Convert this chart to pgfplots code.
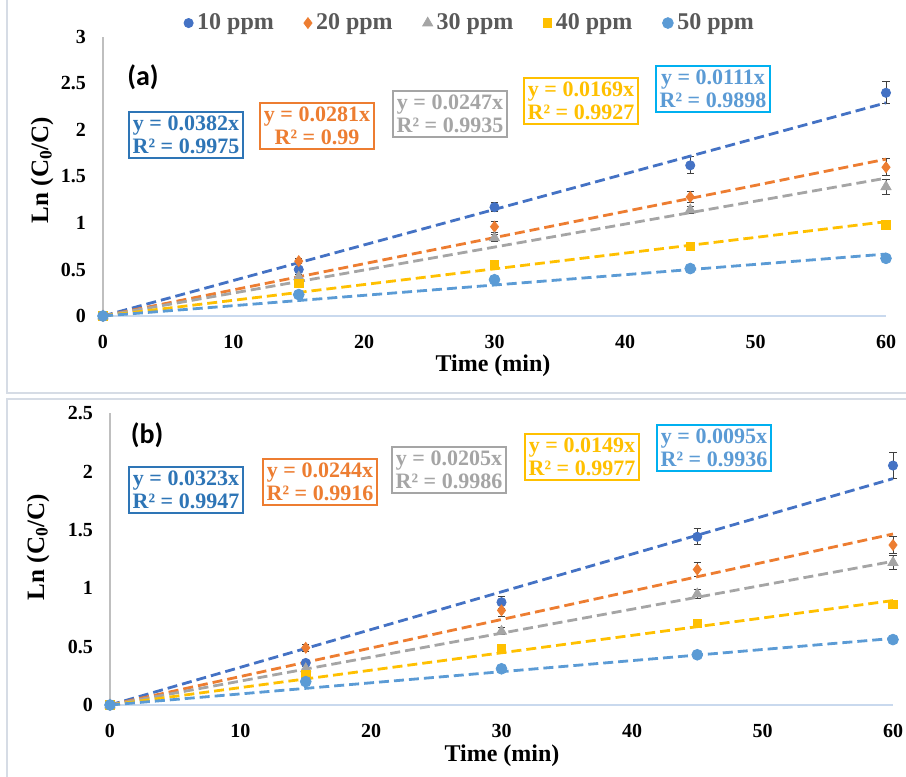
\documentclass[border=0pt]{standalone}
\usepackage{pgfplots}
\pgfplotsset{compat=1.18}
\usepackage{fontspec}
\setmainfont{Liberation Serif}
\newfontfamily\carlito{Carlito}
\definecolor{cA}{HTML}{4472C4}
\definecolor{cB}{HTML}{ED7D31}
\definecolor{cC}{HTML}{A5A5A5}
\definecolor{cD}{HTML}{FFC000}
\definecolor{cE}{HTML}{5B9BD5}
\definecolor{boxA}{HTML}{2E75B6}
\definecolor{boxE}{HTML}{00B0F0}
\definecolor{framec}{HTML}{D6DCE5}
\definecolor{xline}{HTML}{C9D9EE}
\definecolor{yline}{HTML}{BFBFBF}
\definecolor{legtext}{HTML}{595959}
\definecolor{errc}{HTML}{404040}
\pgfplotsset{
 kin/.style={scale only axis, width=391.5pt, xmin=0, xmax=60, ymin=0,
  axis lines=left, axis line style={-},
  x axis line style={draw=xline, line width=0.8pt},
  y axis line style={draw=yline, line width=0.6pt},
  major tick length=0pt, xtick={0,10,...,60},
  tick label style={font=\bfseries\fontsize{10}{10}\selectfont},
  /pgf/number format/assume math mode=true,
  xticklabel style={yshift=-6pt}, yticklabel style={xshift=-5pt},
  clip=false,
  error bars/y dir=both, error bars/y explicit,
  error bars/error mark=-,
  error bars/error bar style={errc, line width=0.5pt},
  error bars/error mark options={errc, rotate=90, mark size=1.8pt, line width=0.5pt}},
 sA/.style={only marks, mark=*, mark size=2.3pt, color=cA},
 sB/.style={only marks, mark=diamond*, mark size=2.7pt, color=cB},
 sC/.style={only marks, mark=triangle*, mark size=2.9pt, color=cC},
 sD/.style={only marks, mark=square*, mark size=2.1pt, color=cD},
 sE/.style={only marks, mark=*, mark size=2.7pt, color=cE},
 tl/.style={forget plot, no marks, line width=1.4pt, dash pattern=on 5pt off 2.5pt},
}
\begin{document}
\begin{tikzpicture}
\useasboundingbox (0,0) rectangle (453pt,388.5pt);
% frames and text annotations (px coordinates)
\begin{scope}[x=0.5pt,y=-0.5pt,shift={(0pt,388.5pt)}]
\draw[framec, line width=0.8pt] (7,-10) rectangle (915,393);
\draw[framec, line width=0.8pt] (7,399) rectangle (915,790);
\node[font=\carlito\bfseries\fontsize{14}{14}\selectfont] at (143,77) {(a)};
\node[font=\carlito\bfseries\fontsize{14}{14}\selectfont] at (147,435) {(b)};
\node[font=\bfseries\fontsize{12}{12}\selectfont] at (493,366) {Time (min)};
\node[font=\bfseries\fontsize{12}{12}\selectfont] at (502,756) {Time (min)};
\node[font=\bfseries\fontsize{12.5}{12.5}\selectfont, rotate=90] at (42,170) {Ln (C\textsubscript{0}/C)};
\node[font=\bfseries\fontsize{12.5}{12.5}\selectfont, rotate=90] at (38,547) {Ln (C\textsubscript{0}/C)};
\tikzset{eq/.style={draw=#1, text=#1, line width=0.8pt, inner sep=2pt, align=center, font=\bfseries\fontsize{11}{11.5}\selectfont, fill=white}}
\node[eq=boxA] at (186,135) {y = 0.0382x\\R² = 0.9975};
\node[eq=cB] at (317,126) {y = 0.0281x\\R² = 0.99};
\node[eq=cC] at (450,114) {y = 0.0247x\\R² = 0.9935};
\node[eq=cD] at (581,101) {y = 0.0169x\\R² = 0.9927};
\node[eq=boxE, text=cE] at (713,89) {y = 0.0111x\\R² = 0.9898};
\node[eq=boxA] at (186,490) {y = 0.0323x\\R² = 0.9947};
\node[eq=cB] at (320,482) {y = 0.0244x\\R² = 0.9916};
\node[eq=cC] at (449,470) {y = 0.0205x\\R² = 0.9986};
\node[eq=cD] at (582,457) {y = 0.0149x\\R² = 0.9977};
\node[eq=boxE, text=cE] at (714,448) {y = 0.0095x\\R² = 0.9936};
\end{scope}
% panel (a)
\begin{axis}[kin, at={(51.5pt,230.5pt)}, anchor=south west, height=139.5pt,
  ymax=3, ytick={0,0.5,...,3},
  legend columns=5,
  legend style={at={(0.47,1.05)}, anchor=center, draw=none, fill=none,
    font=\bfseries\fontsize{12}{12}\selectfont, text=legtext,
    /tikz/every even column/.append style={column sep=13pt}},
  legend image code/.code={\draw[mark repeat=2,mark phase=2,#1] plot coordinates {(0cm,0cm) (0.12cm,0cm) (0.24cm,0cm)};}]
\addplot[sA] coordinates {(0,0) +- (0,0) (15,0.50) +- (0,0.03) (30,1.17) +- (0,0.05) (45,1.62) +- (0,0.09) (60,2.40) +- (0,0.12)};
\addlegendentry{10 ppm}
\addplot[sB] coordinates {(0,0) +- (0,0) (15,0.59) +- (0,0.03) (30,0.96) +- (0,0.06) (45,1.28) +- (0,0.06) (60,1.60) +- (0,0.09)};
\addlegendentry{20 ppm}
\addplot[sC] coordinates {(0,0) +- (0,0) (15,0.42) +- (0,0.03) (30,0.84) +- (0,0.04) (45,1.14) +- (0,0.04) (60,1.39) +- (0,0.08)};
\addlegendentry{30 ppm}
\addplot[sD] coordinates {(0,0) +- (0,0) (15,0.35) +- (0,0.02) (30,0.55) +- (0,0.02) (45,0.75) +- (0,0.02) (60,0.98) +- (0,0.04)};
\addlegendentry{40 ppm}
\addplot[sE] coordinates {(0,0) +- (0,0) (15,0.23) +- (0,0.02) (30,0.39) +- (0,0.02) (45,0.51) +- (0,0.02) (60,0.62) +- (0,0.02)};
\addlegendentry{50 ppm}
\addplot[tl, cA] coordinates {(0,0) (60,2.292)};
\addplot[tl, cB] coordinates {(0,0) (60,1.686)};
\addplot[tl, cC] coordinates {(0,0) (60,1.482)};
\addplot[tl, cD] coordinates {(0,0) (60,1.014)};
\addplot[tl, cE] coordinates {(0,0) (60,0.666)};
\end{axis}
% panel (b)
\begin{axis}[kin, at={(55pt,36pt)}, anchor=south west, height=146pt,
  ymax=2.5, ytick={0,0.5,...,2.5}]
\addplot[sA] coordinates {(0,0) +- (0,0) (15,0.36) +- (0,0.02) (30,0.88) +- (0,0.05) (45,1.44) +- (0,0.07) (60,2.05) +- (0,0.11)};
\addplot[sB] coordinates {(0,0) +- (0,0) (15,0.49) +- (0,0.03) (30,0.81) +- (0,0.05) (45,1.16) +- (0,0.06) (60,1.37) +- (0,0.07)};
\addplot[sC] coordinates {(0,0) +- (0,0) (15,0.31) +- (0,0.02) (30,0.63) +- (0,0.03) (45,0.95) +- (0,0.04) (60,1.22) +- (0,0.06)};
\addplot[sD] coordinates {(0,0) +- (0,0) (15,0.26) +- (0,0.03) (30,0.48) +- (0,0.02) (45,0.70) +- (0,0.02) (60,0.86) +- (0,0.03)};
\addplot[sE] coordinates {(0,0) +- (0,0) (15,0.20) +- (0,0.02) (30,0.31) +- (0,0.02) (45,0.43) +- (0,0.02) (60,0.56) +- (0,0.02)};
\addplot[tl, cA] coordinates {(0,0) (60,1.938)};
\addplot[tl, cB] coordinates {(0,0) (60,1.464)};
\addplot[tl, cC] coordinates {(0,0) (60,1.230)};
\addplot[tl, cD] coordinates {(0,0) (60,0.894)};
\addplot[tl, cE] coordinates {(0,0) (60,0.570)};
\end{axis}
\end{tikzpicture}
\end{document}
